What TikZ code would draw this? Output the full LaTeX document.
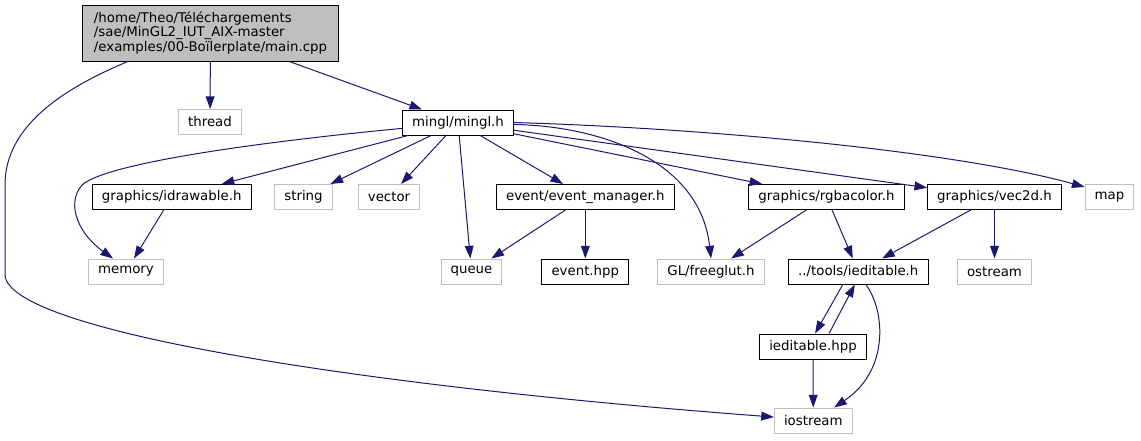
\documentclass[tikz,border=0pt]{standalone}
\usepackage{fontspec}
\setmainfont{DejaVu Sans}
\usepackage{xcolor}
\usetikzlibrary{arrows.meta}

\definecolor{edgeblue}{HTML}{191970}
\definecolor{extgray}{HTML}{BFBFBF}

\begin{document}
\begin{tikzpicture}[
        x=0.75pt, y=-0.75pt,
        file/.style={
            draw=black,
            line width=0.75pt,
            fill=white,
            minimum height=18.75pt,
            inner xsep=7.2pt,
            inner ysep=2pt,
            font=\fontsize{10}{11}\selectfont
        },
        sysfile/.style={file, draw=extgray},
        mainfile/.style={file, fill=extgray, align=left, minimum height=42pt, inner xsep=8.5pt},
        dep/.style={-{Triangle[length=9.5pt, width=6.6pt]}, color=edgeblue, line width=0.75pt}
    ]
        \useasboundingbox (0,0) rectangle (1141,440);

        \node[mainfile] (main) at (210.5,33) {/home/Theo/Téléchargements\\/sae/MinGL2\_IUT\_AIX-master\\/examples/00-Boïlerplate/main.cpp};
        \node[sysfile] (thread) at (210,122) {thread};
        \node[file] (mingl) at (458,122.5) {mingl/mingl.h};

        \node[file] (idraw) at (171.7,197) {graphics/idrawable.h};
        \node[sysfile] (string) at (303.5,197) {string};
        \node[sysfile] (vector) at (389,197) {vector};
        \node[file] (evmgr) at (585.3,197) {event/event\_manager.h};
        \node[file] (rgba) at (826.5,197) {graphics/rgbacolor.h};
        \node[file] (vec2d) at (994.5,197) {graphics/vec2d.h};
        \node[sysfile] (map) at (1109.5,197) {map};

        \node[sysfile] (memory) at (126,271.5) {memory};
        \node[sysfile] (queue) at (471.5,271.5) {queue};
        \node[file] (evhpp) at (585.3,271.5) {event.hpp};
        \node[sysfile] (freeglut) at (711,271.5) {GL/freeglut.h};
        \node[file] (ieditableh) at (858.3,271.5) {../tools/ieditable.h};
        \node[sysfile] (ostream) at (994.5,271.5) {ostream};

        \node[file] (ieditablehpp) at (813,346.5) {ieditable.hpp};
        \node[sysfile] (iostream) at (813.3,420.5) {iostream};

        % main.cpp
        \draw[dep] (main) -- (thread);
        \draw[dep] (main) -- (mingl);
        \draw[dep] (main.-161) .. controls (65,88) and (5,125) .. (5,185) -- (5,275)
            .. controls (8,330) and (350,385) .. (iostream.175);

        % mingl.h
        \draw[dep] (mingl.186) .. controls (300,138) and (110,160) .. (82,185)
            .. controls (65,205) and (80,235) .. (memory.135);
        \draw[dep] (mingl) -- (idraw);
        \draw[dep] (mingl) -- (string);
        \draw[dep] (mingl) -- (vector);
        \draw[dep] (mingl) -- (queue);
        \draw[dep] (mingl) -- (evmgr);
        \draw[dep] (mingl.-2) .. controls (600,126) and (700,160) .. (freeglut.north);
        \draw[dep] (mingl) -- (rgba);
        \draw[dep] (mingl) -- (vec2d);
        \draw[dep] (mingl.east) .. controls (700,128) and (950,150) .. (map.158);

        % second level
        \draw[dep] (idraw) -- (memory);
        \draw[dep] (evmgr) -- (queue);
        \draw[dep] (evmgr) -- (evhpp);
        \draw[dep] (rgba) -- (freeglut);
        \draw[dep] (rgba) -- (ieditableh);
        \draw[dep] (vec2d) -- (ieditableh);
        \draw[dep] (vec2d) -- (ostream);

        % ieditable
        \draw[dep] (ieditableh.-140) -- (ieditablehpp.81);
        \draw[dep] (ieditablehpp.39) -- (ieditableh.-105);
        \draw[dep] (ieditableh.-60) .. controls (885,310) and (890,370) .. (iostream.32);
        \draw[dep] (ieditablehpp) -- (iostream);
    \end{tikzpicture}
\end{document}
